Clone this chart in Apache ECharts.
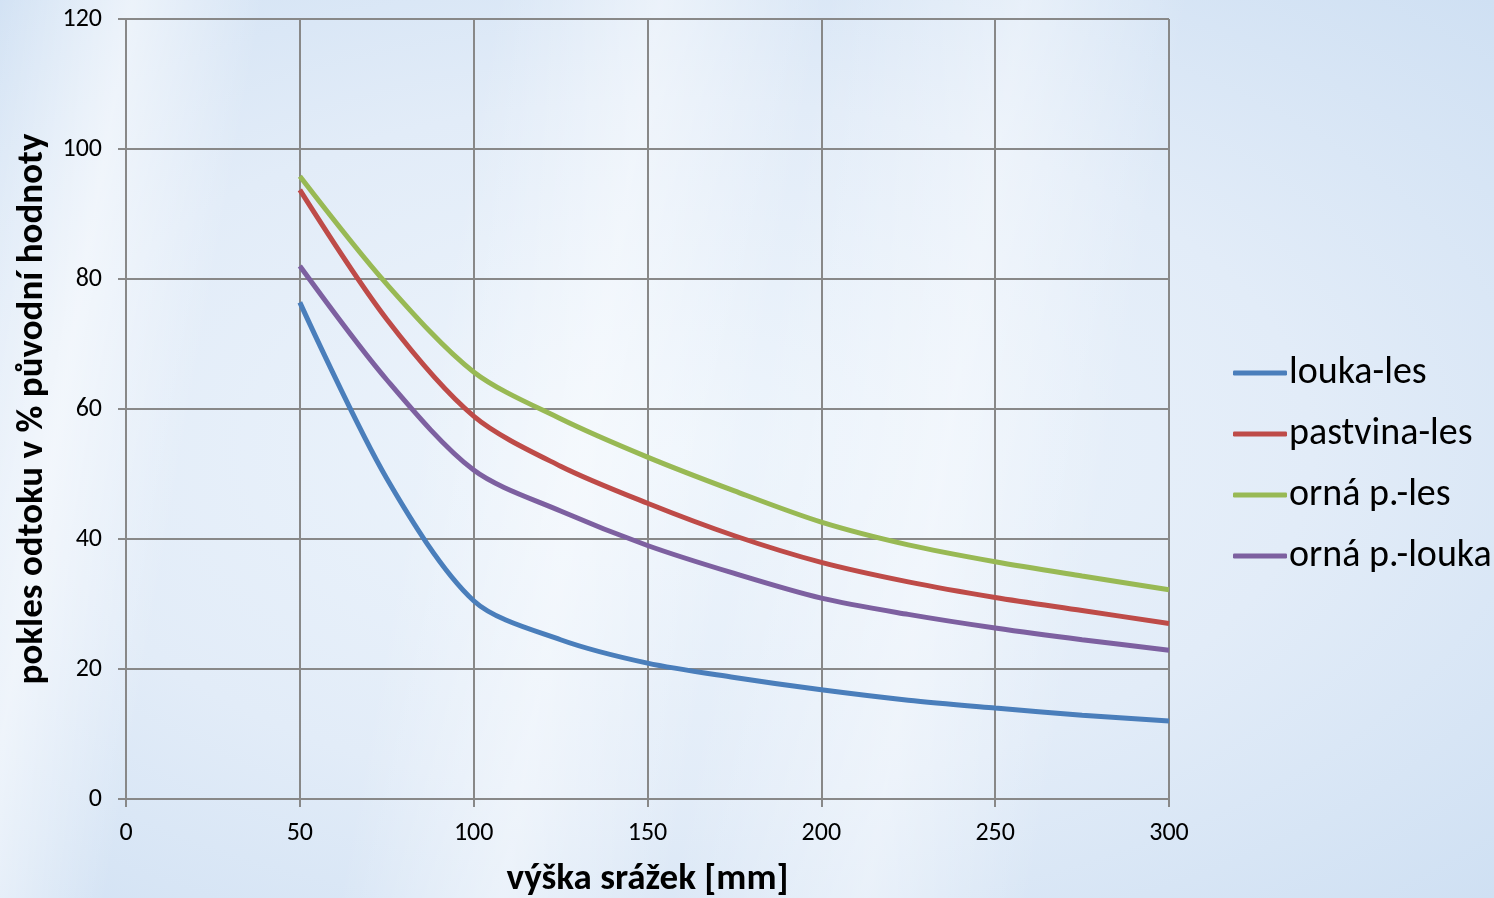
<!DOCTYPE html>
<html>
<head>
<meta charset="utf-8">
<script src="https://cdn.jsdelivr.net/npm/echarts@6/dist/echarts.min.js"></script>
<style>
  html, body { margin: 0; padding: 0; }
  body {
    width: 1494px; height: 898px; overflow: hidden;
    background:
      linear-gradient(100deg, rgba(255,255,255,0) 0%, rgba(255,255,255,0.55) 8%, rgba(255,255,255,0) 16%, rgba(255,255,255,0) 30%, rgba(255,255,255,0.45) 40%, rgba(255,255,255,0) 50%, rgba(255,255,255,0.4) 62%, rgba(255,255,255,0) 72%, rgba(255,255,255,0) 100%),
      radial-gradient(ellipse at 45% 50%, #eef5fc 0%, #e2ecf8 55%, #cfe0f3 100%);
  }
  #chart { width: 1494px; height: 898px; }
</style>
</head>
<body>
<div id="chart"></div>
<script>
// výška srážek [mm]
const xValues = [50, 75, 100, 125, 150, 175, 200, 225, 250, 275, 300]
// pokles odtoku v % původní hodnoty
const loukaLes = [76.4, 49.3, 30.5, 24.5, 20.9, 18.7, 16.8, 15.2, 14.0, 12.9, 12.0]
const pastvinaLes = [93.7, 73.8, 58.9, 51.2, 45.5, 40.5, 36.4, 33.4, 31.0, 29.0, 27.0]
const ornaLes = [95.8, 79.2, 65.7, 58.5, 52.6, 47.4, 42.6, 39.1, 36.5, 34.3, 32.2]
const ornaLouka = [82.0, 64.5, 50.6, 44.3, 39.0, 34.7, 30.9, 28.4, 26.3, 24.5, 22.9]

const seriesNames = ['louka-les', 'pastvina-les', 'orná p.-les', 'orná p.-louka']
const seriesColors = ['#4a7ebb', '#be4b48', '#98b954', '#7d60a0']
const seriesData = [loukaLes, pastvinaLes, ornaLes, ornaLouka]

const font = 'Carlito, Lato, "Open Sans", sans-serif'

const chart = echarts.init(document.getElementById('chart'))

let options = {
  backgroundColor: 'transparent',
  textStyle: { fontFamily: font },
  grid: { left: 126, right: 325, top: 19, bottom: 99, containLabel: false, outerBoundsMode: 'none' },
  legend: {
    orient: 'vertical',
    left: 1228,
    top: 349,
    icon: 'roundRect',
    itemWidth: 54,
    itemHeight: 5,
    itemGap: 23,
    textStyle: { fontSize: 38, color: '#000', fontFamily: font, padding: [0, 0, 0, -3] },
    data: seriesNames
  },
  xAxis: {
    type: 'value',
    min: 0,
    max: 300,
    interval: 50,
    name: 'výška srážek [mm]',
    nameLocation: 'middle',
    nameGap: 62,
    nameTextStyle: { fontSize: 37, fontWeight: 'bold', color: '#000', fontFamily: font },
    axisLine: { lineStyle: { color: '#888', width: 2 } },
    axisTick: { show: true, length: 8, lineStyle: { color: '#888', width: 2 } },
    axisLabel: { fontSize: 26, color: '#000', margin: 21, fontFamily: font },
    splitLine: { show: true, lineStyle: { color: '#888', width: 2 } }
  },
  yAxis: {
    type: 'value',
    min: 0,
    max: 120,
    interval: 20,
    name: 'pokles odtoku v % původní hodnoty',
    nameLocation: 'middle',
    nameGap: 72,
    nameTextStyle: { fontSize: 37, fontWeight: 'bold', color: '#000', fontFamily: font },
    axisLine: { show: true, lineStyle: { color: '#888', width: 2 } },
    axisTick: { show: true, length: 8, lineStyle: { color: '#888', width: 2 } },
    axisLabel: { fontSize: 26, color: '#000', margin: 24, fontFamily: font },
    splitLine: { show: true, lineStyle: { color: '#888', width: 2 } }
  },
  series: seriesNames.map((name, i) => ({
    name: name,
    type: 'line',
    smooth: 0.3,
    symbol: 'none',
    color: seriesColors[i],
    lineStyle: { width: 5, color: seriesColors[i] },
    data: xValues.map((x, j) => [x, seriesData[i][j]])
  }))
}

chart.setOption(options)
</script>
</body>
</html>
